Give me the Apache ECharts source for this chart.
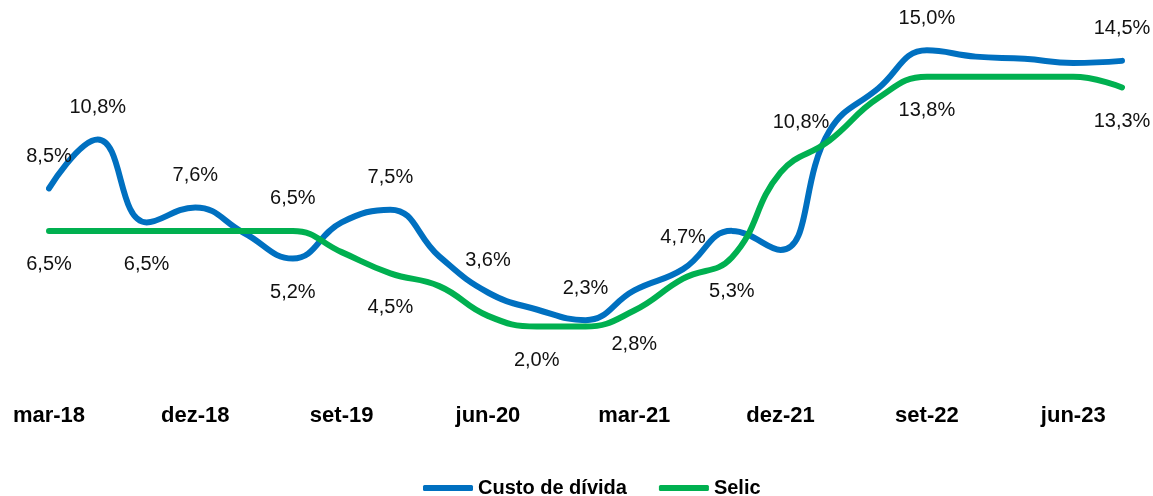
<!DOCTYPE html>
<html>
  <head>
    <meta charset="utf-8" />
    <script src="https://cdn.jsdelivr.net/npm/echarts/dist/echarts.min.js"></script>
  </head>
  <body style="margin:0; background:#fff;">
    <div id="line-chart" style="width: 1153px; height: 496px;"></div>
    <script>
        // Quarters
        var quarters = ['mar-18', 'jun-18', 'set-18', 'dez-18', 'mar-19', 'jun-19', 'set-19', 'dez-19',
                        'mar-20', 'jun-20', 'set-20', 'dez-20', 'mar-21', 'jun-21', 'set-21', 'dez-21',
                        'mar-22', 'jun-22', 'set-22', 'dez-22', 'mar-23', 'jun-23', 'set-23'];

        // Series values (%)
        var custoDivida = [8.5, 10.8, 6.9, 7.6, 6.4, 5.2, 6.9, 7.5, 5.3, 3.6, 2.8, 2.3,
                           3.7, 4.7, 6.5, 5.6, 11.2, 13.2, 15.0, 14.7, 14.6, 14.4, 14.5];
        var selic = [6.5, 6.5, 6.5, 6.5, 6.5, 6.5, 5.5, 4.5, 3.9, 2.5, 2.0, 2.0,
                     2.75, 4.25, 5.25, 9.25, 10.75, 12.75, 13.75, 13.75, 13.75, 13.75, 13.25];

        // Which points carry a data label
        var custoLabelIdx = [0, 1, 3, 5, 7, 9, 11, 13, 18, 22];
        var selicLabelIdx = [0, 2, 5, 7, 10, 12, 14, 16, 18, 22];

        var fmt = function (v) { return v.toFixed(1).replace('.', ',') + '%'; };

        var labelFont = { fontFamily: 'Liberation Sans', fontSize: 20, color: '#111' };

        function buildData(values, labelIdx, defPos, special) {
            return values.map(function (v, i) {
                if (labelIdx.indexOf(i) < 0) return v;
                var lab = Object.assign({ show: true, formatter: fmt(v) }, labelFont);
                var sp = special[i];
                if (sp) {
                    Object.assign(lab, sp);
                } else {
                    lab.position = defPos;
                    lab.distance = defPos === 'top' ? 22 : 24;
                }
                return { value: v, label: lab };
            });
        }

        var chart = echarts.init(document.getElementById('line-chart'));

        var option = {
            animation: false,
            grid: { left: 49, right: 31, top: 29, bottom: 127 },
            legend: {
                left: 418,
                top: 473,
                itemWidth: 50,
                itemHeight: 6,
                itemGap: 32,
                icon: 'roundRect',
                textStyle: { fontFamily: 'Liberation Sans', fontSize: 20, fontWeight: 'bold', color: '#000' },
                data: ['Custo de dívida', 'Selic']
            },
            xAxis: {
                type: 'category',
                data: quarters,
                boundaryGap: false,
                axisLine: { show: false },
                axisTick: { show: false },
                axisLabel: {
                    interval: 2,
                    margin: 36,
                    fontFamily: 'Liberation Sans',
                    fontSize: 22,
                    fontWeight: 'bold',
                    color: '#000'
                }
            },
            yAxis: {
                type: 'value',
                min: 0,
                max: 16,
                show: false,
                splitLine: { show: false }
            },
            series: [
                {
                    name: 'Custo de dívida',
                    type: 'line',
                    smooth: 0.45,
                    symbol: 'circle',
                    symbolSize: 0,
                    showSymbol: true,
                    lineStyle: { width: 6, color: '#0070C0', cap: 'round' },
                    itemStyle: { color: '#0070C0' },
                    data: buildData(custoDivida, custoLabelIdx, 'top', {
                        5: { position: 'bottom', distance: 24 }
                    })
                },
                {
                    name: 'Selic',
                    type: 'line',
                    smooth: 0.45,
                    symbol: 'circle',
                    symbolSize: 0,
                    showSymbol: true,
                    lineStyle: { width: 6, color: '#00B050', cap: 'round' },
                    itemStyle: { color: '#00B050' },
                    data: buildData(selic, selicLabelIdx, 'bottom', {
                        5: { position: 'top', distance: 22 },
                        16: { position: 'left', distance: 0, offset: [0, -18] }
                    })
                }
            ]
        };

        chart.setOption(option);
    </script>
  </body>
</html>
